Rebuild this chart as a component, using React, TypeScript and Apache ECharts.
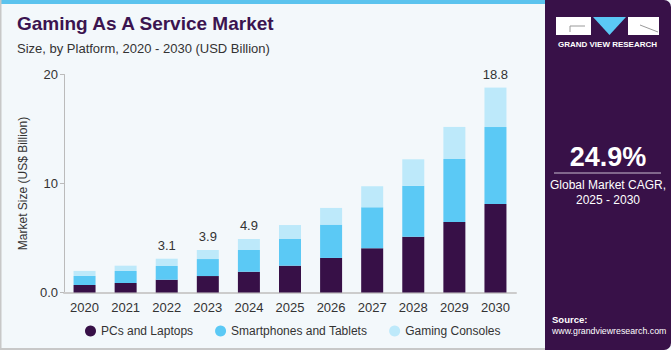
import React, { useEffect, useRef } from "react";
import * as echarts from "echarts";

const years = ["2020", "2021", "2022", "2023", "2024", "2025", "2026", "2027", "2028", "2029", "2030"];
const pcsLaptops = [0.69, 0.87, 1.17, 1.51, 1.91, 2.46, 3.17, 4.06, 5.12, 6.47, 8.12];
const smartphonesTablets = [0.83, 1.1, 1.26, 1.56, 1.99, 2.45, 3.06, 3.76, 4.68, 5.78, 7.06];
const gamingConsoles = [0.46, 0.49, 0.67, 0.83, 1.0, 1.28, 1.53, 1.93, 2.42, 2.94, 3.62];
const totalLabels = ["", "", "3.1", "3.9", "4.9", "", "", "", "", "", "18.8"];
const seriesNames = ["PCs and Laptops", "Smartphones and Tablets", "Gaming Consoles"];
const seriesColors = ["#371047", "#5bc9f5", "#bde9fa"];
const yTicks = { min: 0, max: 20, interval: 10 };

const FONT = "'Liberation Sans', Arial, sans-serif";

export default function App() {
  const ref = useRef<HTMLDivElement>(null);
  useEffect(() => {
    if (!ref.current) return;
    const chart = echarts.init(ref.current, null, { renderer: "svg" });
    const data = [pcsLaptops, smartphonesTablets, gamingConsoles];
    chart.setOption({
      animation: false,
      backgroundColor: "#f3f8fb",
      textStyle: { fontFamily: FONT },
      grid: { left: 64, right: 155, top: 74.5, bottom: 57.5 },
      legend: {
        top: 320,
        left: 80,
        itemWidth: 11,
        itemHeight: 11,
        itemGap: 22,
        icon: "circle",
        textStyle: { fontFamily: FONT, fontSize: 12, color: "#333" },
        data: seriesNames,
      },
      xAxis: {
        type: "category",
        data: years,
        axisLine: { lineStyle: { color: "#cccccc", width: 2 } },
        axisTick: { show: false },
        axisLabel: { color: "#333", fontSize: 13, margin: 8, fontFamily: FONT },
      },
      yAxis: {
        type: "value",
        min: yTicks.min,
        max: yTicks.max,
        interval: yTicks.interval,
        name: "Market Size (US$ Billion)",
        nameLocation: "middle",
        nameGap: 34,
        nameTextStyle: { color: "#333", fontSize: 12, fontFamily: FONT },
        axisLine: { show: true, lineStyle: { color: "#bbbbbb", width: 1 } },
        axisTick: { show: true, length: 4, lineStyle: { color: "#bbbbbb" } },
        splitLine: { show: false },
        axisLabel: {
          color: "#333",
          fontSize: 13,
          margin: 6,
          fontFamily: FONT,
          formatter: (v: number) => (v === 0 ? "0.0" : String(v)),
        },
      },
      series: data.map((d, i) => ({
        name: seriesNames[i],
        type: "bar",
        stack: "total",
        barWidth: 22,
        data: d,
        itemStyle: { color: seriesColors[i] },
        label:
          i === 2
            ? {
                show: true,
                position: "top",
                distance: 7,
                color: "#333",
                fontSize: 13,
                fontFamily: FONT,
                formatter: (p: any) => totalLabels[p.dataIndex],
              }
            : { show: false },
      })),
      graphic: [
        { type: "rect", shape: { x: 0, y: 0, width: 546, height: 4 }, style: { fill: "#5bc3ee" } },
        { type: "rect", shape: { x: 0, y: 0, width: 1.5, height: 350 }, style: { fill: "#c8c8c8" } },
        { type: "rect", shape: { x: 0, y: 348, width: 546, height: 2 }, style: { fill: "#c8c8c8" } },
        {
          type: "rect",
          shape: { x: 545, y: 0, width: 126, height: 350, r: [0, 7, 7, 0] },
          style: { fill: "#381148" },
        },
        {
          type: "text",
          x: 17,
          y: 14,
          style: { text: "Gaming As A Service Market", fill: "#3b1450", font: `bold 19px ${FONT}` },
        },
        {
          type: "text",
          x: 17,
          y: 42,
          style: { text: "Size, by Platform, 2020 - 2030 (USD Billion)", fill: "#333", font: `13px ${FONT}` },
        },
        // logo
        { type: "rect", shape: { x: 556, y: 17, width: 35, height: 18 }, style: { fill: "#ffffff" } },
        { type: "polyline", shape: { points: [[570, 32], [570, 26], [585, 26]] }, style: { stroke: "#9a9a9a", lineWidth: 1, fill: "none" } },
        { type: "polygon", shape: { points: [[593, 17], [626, 17], [609.5, 35]] }, style: { fill: "#5bc8f5" } },
        { type: "rect", shape: { x: 628, y: 17, width: 31, height: 18 }, style: { fill: "#ffffff" } },
        { type: "line", shape: { x1: 640, y1: 25, x2: 658, y2: 32 }, style: { stroke: "#9a9a9a", lineWidth: 1 } },
        {
          type: "text",
          x: 607.5,
          y: 44,
          style: { text: "GRAND VIEW RESEARCH", fill: "#ffffff", font: `bold 8px ${FONT}`, align: "center", verticalAlign: "middle" },
        },
        {
          type: "text",
          x: 608,
          y: 157,
          style: { text: "24.9%", fill: "#ffffff", font: `bold 27px ${FONT}`, align: "center", verticalAlign: "middle" },
        },
        { type: "line", shape: { x1: 554, y1: 173, x2: 661, y2: 173 }, style: { stroke: "#c9bdd0", lineWidth: 1 } },
        {
          type: "text",
          x: 608,
          y: 185,
          style: { text: "Global Market CAGR,", fill: "#ffffff", font: `12px ${FONT}`, align: "center", verticalAlign: "middle" },
        },
        {
          type: "text",
          x: 608,
          y: 200,
          style: { text: "2025 - 2030", fill: "#ffffff", font: `12px ${FONT}`, align: "center", verticalAlign: "middle" },
        },
        {
          type: "text",
          x: 552,
          y: 319,
          style: { text: "Source:", fill: "#ffffff", font: `bold 9.5px ${FONT}`, verticalAlign: "middle" },
        },
        {
          type: "text",
          x: 552,
          y: 331,
          style: { text: "www.grandviewresearch.com", fill: "#ffffff", font: `8.8px ${FONT}`, verticalAlign: "middle" },
        },
      ],
    });
    return () => chart.dispose();
  }, []);
  return (
    <div
      ref={ref}
      style={{ position: "fixed", left: 0, top: 0, width: 671, height: 350 }}
    />
  );
}
